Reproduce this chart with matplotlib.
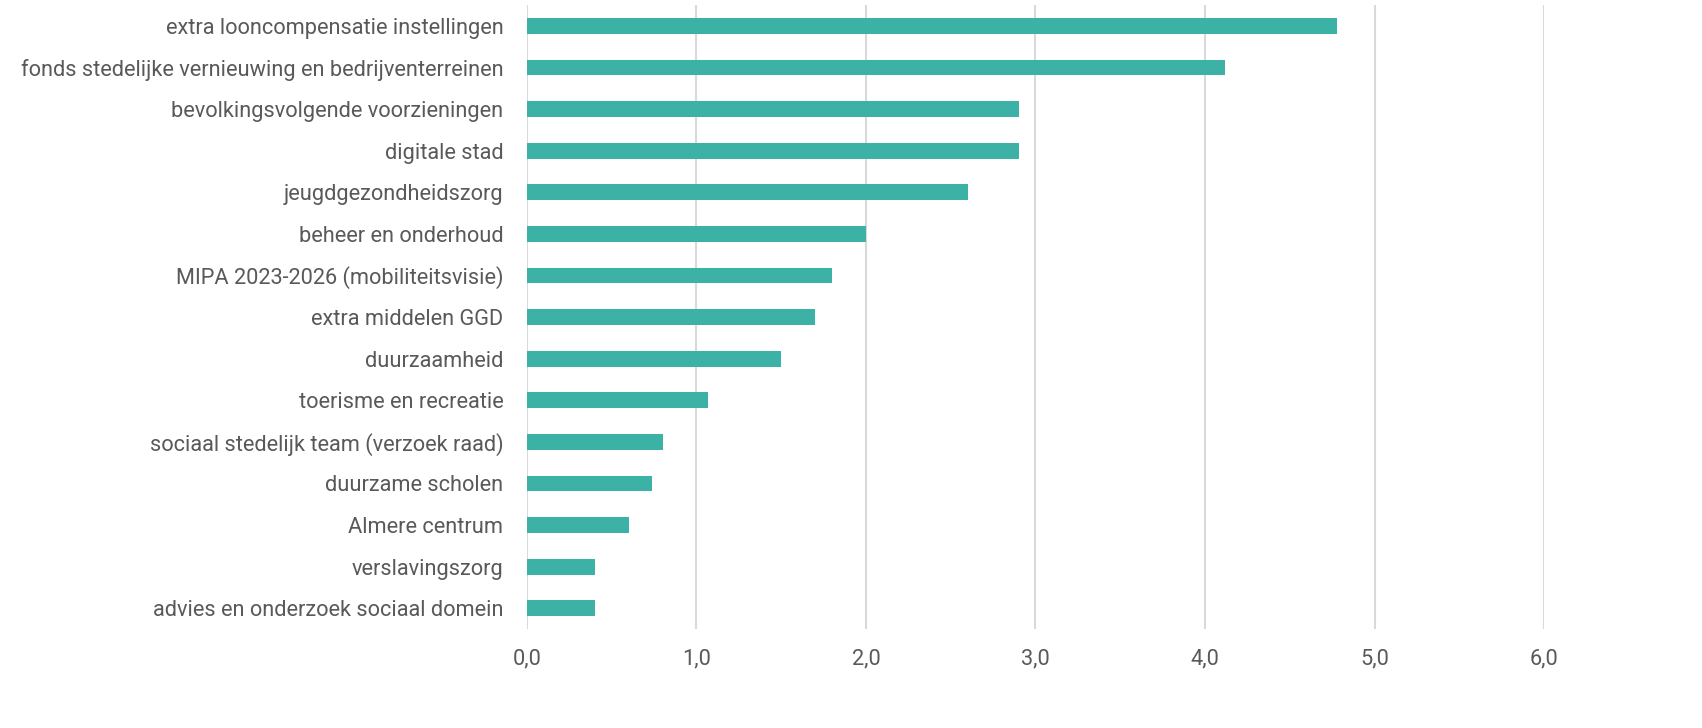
import matplotlib
matplotlib.use("Agg")
import matplotlib.pyplot as plt
from matplotlib.ticker import FuncFormatter

categories = [
    "extra looncompensatie instellingen",
    "fonds stedelijke vernieuwing en bedrijventerreinen",
    "bevolkingsvolgende voorzieningen",
    "digitale stad",
    "jeugdgezondheidszorg",
    "beheer en onderhoud",
    "MIPA 2023-2026 (mobiliteitsvisie)",
    "extra middelen GGD",
    "duurzaamheid",
    "toerisme en recreatie",
    "sociaal stedelijk team (verzoek raad)",
    "duurzame scholen",
    "Almere centrum",
    "verslavingszorg",
    "advies en onderzoek sociaal domein",
]
values = [4.78, 4.12, 2.90, 2.90, 2.60, 2.00, 1.80, 1.70, 1.50, 1.07, 0.80, 0.74, 0.60, 0.40, 0.40]
xticks = [0, 1, 2, 3, 4, 5, 6]

plt.rcParams['font.family'] = ['Roboto', 'DejaVu Sans']

fig = plt.figure(figsize=(17.02, 7.28), dpi=100)
ax = fig.add_axes([0.3096, 0.136, 0.5976, 0.857])

ypos = list(range(len(categories)))
ax.barh(ypos, values, height=0.38, color='#3CB2A7', zorder=3)
ax.set_ylim(len(categories) - 0.5, -0.5)
ax.set_xlim(0, 6)
ax.set_yticks(ypos)
ax.set_yticklabels(categories)
ax.set_xticks(xticks)
ax.xaxis.set_major_formatter(FuncFormatter(lambda v, p: f"{v:.1f}".replace('.', ',')))

ax.grid(axis='x', color='#d9d9d9', linewidth=1.5, zorder=0)
for s in ax.spines.values():
    s.set_visible(False)
ax.tick_params(axis='both', length=0, colors='#595959', labelsize=15.7)
ax.tick_params(axis='y', pad=17)
ax.tick_params(axis='x', pad=14)

fig.savefig("out.png", dpi=100)
